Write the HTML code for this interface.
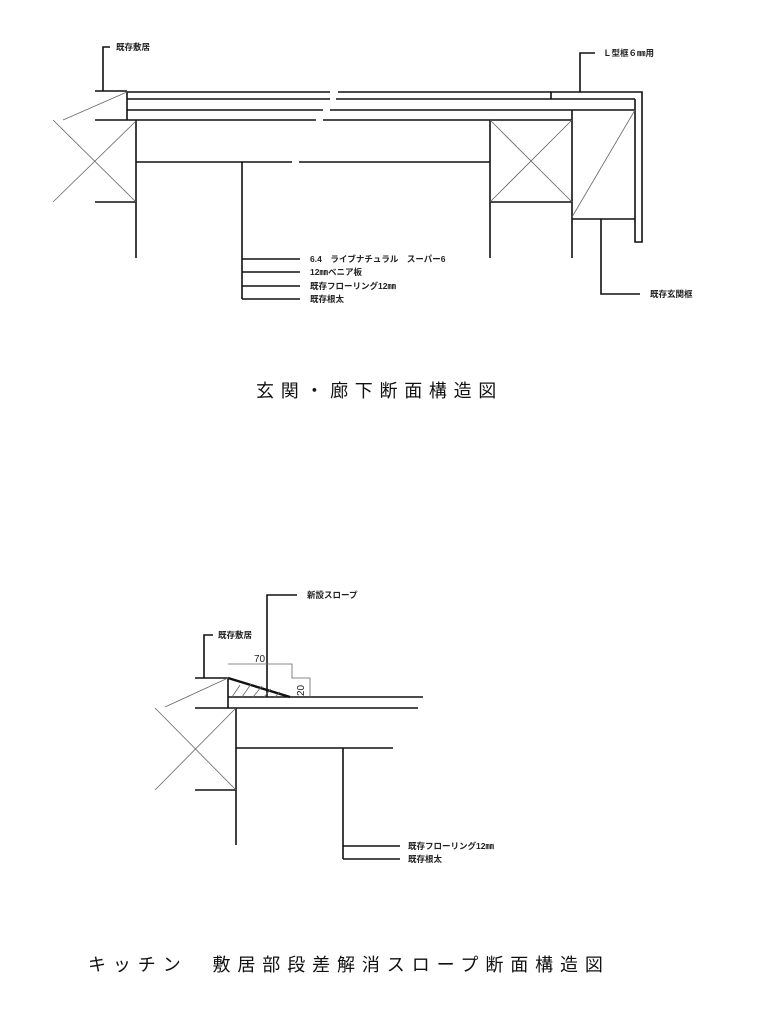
<!DOCTYPE html>
<html><head><meta charset="utf-8">
<style>
html,body{margin:0;padding:0;background:#fff;}
svg{display:block;}
.l{font-family:"Liberation Sans","Noto Sans CJK JP",sans-serif;font-size:8.5px;font-weight:bold;fill:#222;}
.t{font-family:"Liberation Sans","Noto Sans CJK JP",sans-serif;font-size:18px;fill:#111;}
</style></head><body>
<svg width="768" height="1024" viewBox="0 0 768 1024" xmlns="http://www.w3.org/2000/svg">
<g stroke="#111" stroke-width="1.6" fill="none">
<!-- top drawing -->
<polyline points="110,47 103,47 103,91"/>
<line x1="95" y1="91" x2="127" y2="91"/>
<line x1="127" y1="92" x2="330" y2="92"/><line x1="338" y1="92" x2="551" y2="92"/>
<line x1="127" y1="99" x2="330" y2="99"/><line x1="336" y1="99" x2="635" y2="99"/>
<line x1="127" y1="110" x2="323" y2="110"/><line x1="330" y1="110" x2="635" y2="110"/>
<line x1="95" y1="120" x2="316" y2="120"/><line x1="323" y1="120" x2="572" y2="120"/>
<line x1="127" y1="92" x2="127" y2="120"/>
<line x1="136" y1="120" x2="136" y2="258"/>
<line x1="136" y1="162" x2="292" y2="162"/><line x1="299" y1="162" x2="490" y2="162"/>
<line x1="95" y1="202" x2="136" y2="202"/>
<polyline points="551,99 551,92 642,92 642,242 635,242 635,99"/>
<line x1="490" y1="120" x2="490" y2="258"/><line x1="572" y1="110" x2="572" y2="258"/>
<line x1="490" y1="202" x2="572" y2="202"/>
<line x1="572" y1="219" x2="635" y2="219"/>
<polyline points="580,92 580,53 595,53"/>
<polyline points="601,219 601,294 640,294"/>
<line x1="242" y1="162" x2="242" y2="299"/>
<line x1="242" y1="259" x2="300" y2="259"/><line x1="242" y1="272" x2="300" y2="272"/>
<line x1="242" y1="286" x2="300" y2="286"/><line x1="242" y1="299" x2="300" y2="299"/>
<!-- bottom drawing -->
<polyline points="267,697 267,595 297,595"/>
<polyline points="213,635 204,635 204,678"/>
<line x1="195" y1="678" x2="228" y2="678"/>
<line x1="228" y1="697" x2="423" y2="697"/>
<line x1="195" y1="708" x2="418" y2="708"/>
<line x1="228" y1="678" x2="228" y2="708"/>
<line x1="236" y1="708" x2="236" y2="845"/>
<line x1="236" y1="748" x2="393" y2="748"/>
<line x1="195" y1="790" x2="236" y2="790"/>
<line x1="343" y1="748" x2="343" y2="859"/>
<line x1="343" y1="846" x2="400" y2="846"/><line x1="343" y1="859" x2="400" y2="859"/>
<line x1="228" y1="678" x2="290" y2="697" stroke-width="2.4"/>
</g>
<g stroke="#666" stroke-width="0.8" fill="none">
<line x1="63" y1="120" x2="127" y2="92"/>
<line x1="53" y1="202" x2="136" y2="121"/><line x1="53" y1="120" x2="136" y2="202"/>
<line x1="490" y1="120" x2="572" y2="202"/><line x1="572" y1="120" x2="490" y2="202"/>
<line x1="635" y1="110" x2="572" y2="217"/>
<line x1="165" y1="707" x2="228" y2="678"/>
<line x1="155" y1="708" x2="236" y2="790"/><line x1="155" y1="790" x2="236" y2="708"/>
<polyline points="228,664 292,664 292,678 310,678 310,697"/>
<line x1="232" y1="697" x2="240" y2="685"/><line x1="242" y1="697" x2="251" y2="684"/>
<line x1="253" y1="697" x2="262" y2="686"/><line x1="264" y1="697" x2="271" y2="689"/>
<line x1="275" y1="697" x2="280" y2="692"/>
</g>
<text class="l" x="116" y="50">既存敷居</text>
<text class="l" x="603" y="56">Ｌ型框６㎜用</text>
<text class="l" x="310" y="262">6.4　ライブナチュラル　スーパー6</text>
<text class="l" x="310" y="275">12㎜ベニア板</text>
<text class="l" x="310" y="289">既存フローリング12㎜</text>
<text class="l" x="310" y="302">既存根太</text>
<text class="l" x="650" y="297">既存玄関框</text>
<text class="l" x="307" y="598">新設スロープ</text>
<text class="l" x="218" y="638">既存敷居</text>
<text class="l" x="408" y="849">既存フローリング12㎜</text>
<text class="l" x="408" y="862">既存根太</text>
<text x="254" y="662" font-family="Liberation Sans,sans-serif" font-size="10" fill="#222">70</text>
<text x="0" y="0" transform="translate(304,696) rotate(-90)" font-family="Liberation Sans,sans-serif" font-size="10" fill="#222">20</text>
<text class="t" x="256" y="397" letter-spacing="6.7">玄関・廊下断面構造図</text>
<text class="t" x="88" y="971" letter-spacing="6.9">キッチン　敷居部段差解消スロープ断面構造図</text>
</svg>
</body></html>
